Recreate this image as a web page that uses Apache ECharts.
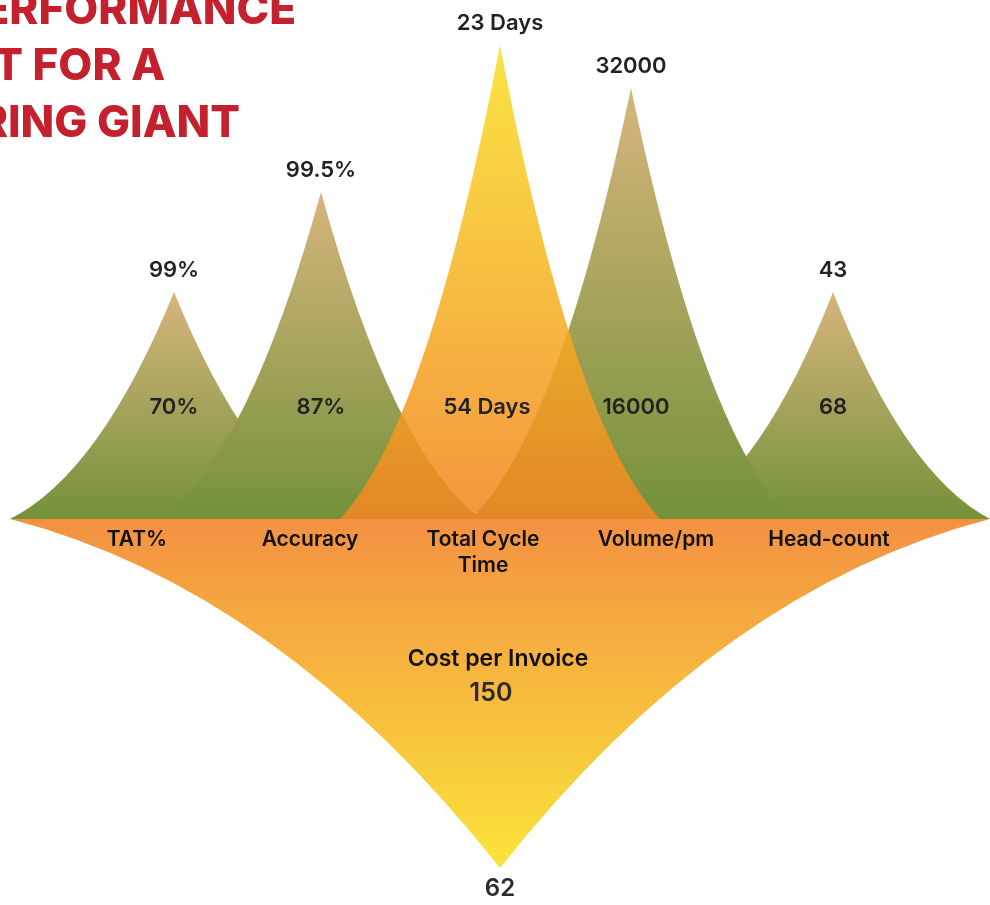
<!DOCTYPE html>
<html>
<head>
<meta charset="utf-8">
<script src="https://cdn.jsdelivr.net/npm/echarts@6/dist/echarts.min.js"></script>
<style>
html,body{margin:0;padding:0;background:#ffffff;}
#chart{width:990px;height:905px;}
</style>
</head>
<body>
<div id="chart"></div>
<script>
// ---- data ----
const categories = ['TAT%', 'Accuracy', 'Total Cycle\nTime', 'Volume/pm', 'Head-count'];
const beforeValues = ['70%', '87%', '54 Days', '16000', '68'];
const afterValues = ['99%', '99.5%', '23 Days', '32000', '43'];
const spikeHeight = [227, 327, 474, 431, 227];
const costLabel = 'Cost per Invoice';
const costBefore = '150';
const costAfter = '62';
const costDepth = -349;
const titleLines = ['PROCESS PERFORMANCE', 'IMPROVEMENT FOR A', 'MANUFACTURING GIANT'];

// ---- layout / style constants ----
const LAYOUT = {
  shift: [37, 11, 17, -25, 4],
  halfWidth: [164, 160, 160, 160, 157],
  innerShift: [0, 0, -13, 5, 0],
  order: [1, 2, 5, 4, 3],
  innerLevel: 113,
  costIndex: 2,
  costShift: 17,
  costHalfWidth: 490
};
const FONT = 'Inter';

function spikePath(cx, by, ty, hw) {
  const h = by - ty;
  const cy = by - 0.2 * h;
  return 'M' + (cx - hw) + ',' + by +
    ' Q' + (cx - 0.45 * hw) + ',' + cy + ' ' + cx + ',' + ty +
    ' Q' + (cx + 0.45 * hw) + ',' + cy + ' ' + (cx + hw) + ',' + by + ' Z';
}
function greenGrad() {
  return new echarts.graphic.LinearGradient(0, 0, 0, 1, [
    { offset: 0, color: '#D6B57D' },
    { offset: 1, color: '#74913A' }
  ]);
}
function cycleGrad() {
  return new echarts.graphic.LinearGradient(0, 0, 0, 1, [
    { offset: 0, color: 'rgba(250,224,40,0.87)' },
    { offset: 1, color: 'rgba(242,134,34,0.87)' }
  ]);
}
function costGrad() {
  return new echarts.graphic.LinearGradient(0, 0, 0, 1, [
    { offset: 0, color: '#F39142' },
    { offset: 1, color: '#FAE43A' }
  ]);
}
function txt(x, y, text, size, weight, color, z2) {
  return {
    type: 'text', x: x, y: y, z2: z2 || 100,
    style: {
      text: text, fill: color || '#222', fontSize: size, fontWeight: weight,
      fontFamily: FONT, textAlign: 'center', textVerticalAlign: 'middle'
    }
  };
}

const chart = echarts.init(document.getElementById('chart'), null, { renderer: 'canvas' });

const titleRight = [296, 165, 240];
const titleMid = [11, 67, 124];

chart.setOption({
  backgroundColor: '#ffffff',
  animation: false,
  grid: { left: 50.5, right: 74.5, top: 44, bottom: 386, containLabel: false, outerBoundsMode: 'none' },
  xAxis: {
    type: 'category',
    data: categories,
    z: 10,
    axisLine: { show: false },
    axisTick: { show: false },
    splitLine: { show: false },
    axisLabel: {
      color: '#111', fontSize: 21, fontWeight: 600, fontFamily: FONT,
      lineHeight: 26, margin: 8, interval: 0
    }
  },
  yAxis: {
    type: 'value', min: 0, max: 475, show: false,
    splitLine: { show: false }
  },
  graphic: titleLines.map(function (t, i) {
    return {
      type: 'text', x: titleRight[i], y: titleMid[i], z: 100,
      style: {
        text: t, fill: '#C4202E', fontSize: 44, fontWeight: 800, fontFamily: FONT,
        textAlign: 'right', textVerticalAlign: 'middle'
      }
    };
  }),
  series: [
    {
      type: 'custom',
      name: costLabel,
      z: 2,
      clip: false,
      data: [[LAYOUT.costIndex, costDepth]],
      renderItem: function (params, api) {
        const base = api.coord([api.value(0), 0]);
        const tip = api.coord([api.value(0), api.value(1)]);
        const cx = base[0] + LAYOUT.costShift;
        return {
          type: 'group',
          children: [
            { type: 'path', z2: 1, shape: { pathData: spikePath(cx, base[1], tip[1], LAYOUT.costHalfWidth) }, style: { fill: costGrad() } },
            txt(cx - 2, base[1] + 140, costLabel, 23, 600, '#111'),
            txt(cx - 9, base[1] + 174, costBefore, 25, 600, '#2a2a2a'),
            txt(cx, tip[1] + 21, costAfter, 24, 600, '#2a2a2a')
          ]
        };
      }
    },
    {
      type: 'custom',
      name: 'Performance',
      z: 3,
      clip: false,
      data: spikeHeight.map(function (v, i) { return [i, v]; }),
      renderItem: function (params, api) {
        const i = params.dataIndex;
        const base = api.coord([api.value(0), 0]);
        const top = api.coord([api.value(0), api.value(1)]);
        const inner = api.coord([api.value(0), LAYOUT.innerLevel]);
        const cx = base[0] + LAYOUT.shift[i];
        const hw = LAYOUT.halfWidth[i];
        const fill = i === 2 ? cycleGrad() : greenGrad();
        return {
          type: 'group',
          children: [
            { type: 'path', z2: LAYOUT.order[i] * 10, shape: { pathData: spikePath(cx, base[1], top[1], hw) }, style: { fill: fill } },
            txt(cx, top[1] - 22, afterValues[i], 22, 600, '#222'),
            txt(cx + LAYOUT.innerShift[i], inner[1] + 1, beforeValues[i], 22, 600, '#222')
          ]
        };
      }
    }
  ]
});
</script>
</body>
</html>
